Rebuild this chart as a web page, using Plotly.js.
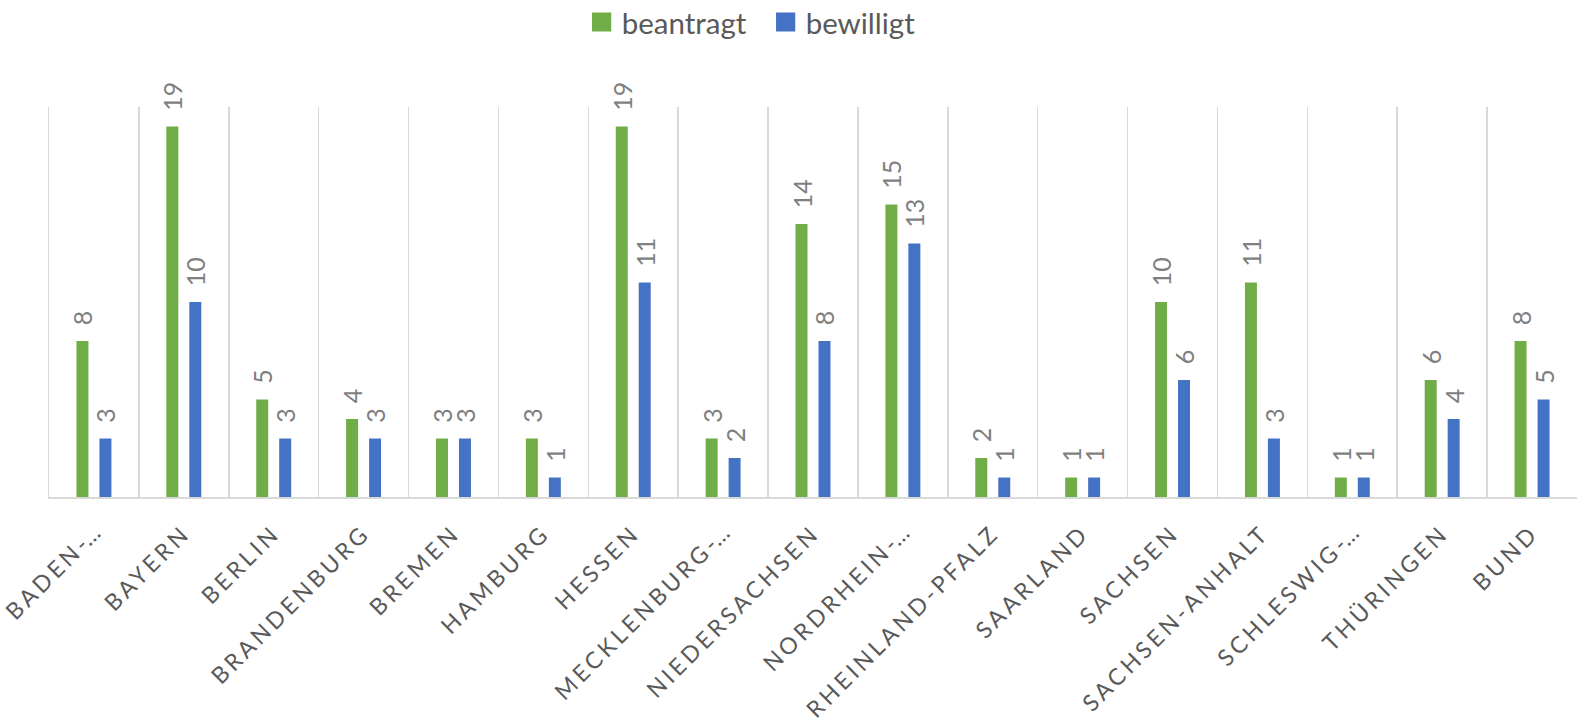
<!DOCTYPE html>
<html>
<head>
<meta charset="utf-8">
<script src="https://cdn.plot.ly/plotly-3.0.1.min.js"></script>
<style>
html,body{margin:0;padding:0;background:#fff;}
#chart{width:1577px;height:720px;}
.xtick text{letter-spacing:3.6px;}
</style>
</head>
<body>
<div id="chart"></div>
<script>
const categories = ["BADEN-…","BAYERN","BERLIN","BRANDENBURG","BREMEN","HAMBURG","HESSEN","MECKLENBURG-…","NIEDERSACHSEN","NORDRHEIN-…","RHEINLAND-PFALZ","SAARLAND","SACHSEN","SACHSEN-ANHALT","SCHLESWIG-…","THÜRINGEN","BUND"];
const beantragt = [8,19,5,4,3,3,19,3,14,15,2,1,10,11,1,6,8];
const bewilligt = [3,10,3,3,3,1,11,2,8,13,1,1,6,3,1,4,5];
const seriesNames = ["beantragt","bewilligt"];

const tickText = categories.map(function(c){
  return c.replace("-…", '<span style="letter-spacing:0px">-…</span>');
});

const font = "Lato, Open Sans, sans-serif";
const labelFont = {family: font, size: 25, color: "#7f7f7f"};
function mk(name, vals, color){
  return {
    type: "bar", name: name, x: categories, y: vals,
    marker: {color: color},
    texttemplate: "\u00a0\u00a0%{y}", textposition: "outside", textangle: -90,
    textfont: labelFont, outsidetextfont: labelFont,
    constraintext: "none", cliponaxis: false, hoverinfo: "skip"
  };
}
const data = [mk(seriesNames[0], beantragt, "#70ad47"), mk(seriesNames[1], bewilligt, "#4472c4")];
const layout = {
  width: 1577, height: 720,
  margin: {l: 49, r: 0, t: 107, b: 223},
  paper_bgcolor: "#fff", plot_bgcolor: "#fff",
  barmode: "group", bargap: 0.489, bargroupgap: 0.478,
  showlegend: true,
  legend: {orientation: "h", xref: "container", yref: "container", x: 0.4855, xanchor: "center", y: 0.969, yanchor: "middle",
           font: {family: font, size: 29.5, color: "#595959"}, itemwidth: 30, entrywidth: 139},
  xaxis: {type: "category", tickson: "boundaries", showgrid: true, gridcolor: "#d9d9d9", gridwidth: 1.5,
          tickmode: "array", tickvals: categories, ticktext: tickText,
          showline: true, linecolor: "#d9d9d9", linewidth: 1.5, ticks: "", tickangle: -45, ticklabelstandoff: 12,
          tickfont: {family: font, size: 23, color: "#595959"}, automargin: false},
  yaxis: {range: [0, 20], showgrid: false, zeroline: false, showticklabels: false, ticks: "",
          showline: true, linecolor: "#d9d9d9", linewidth: 1.5}
};
Plotly.newPlot("chart", data, layout, {displayModeBar: false, staticPlot: true}).then(function(){
  document.querySelectorAll(".legendpoints path").forEach(function(p){
    var t = p.getAttribute("transform") || "";
    p.setAttribute("transform", t + " scale(1.6)");
  });
});
</script>
</body>
</html>
